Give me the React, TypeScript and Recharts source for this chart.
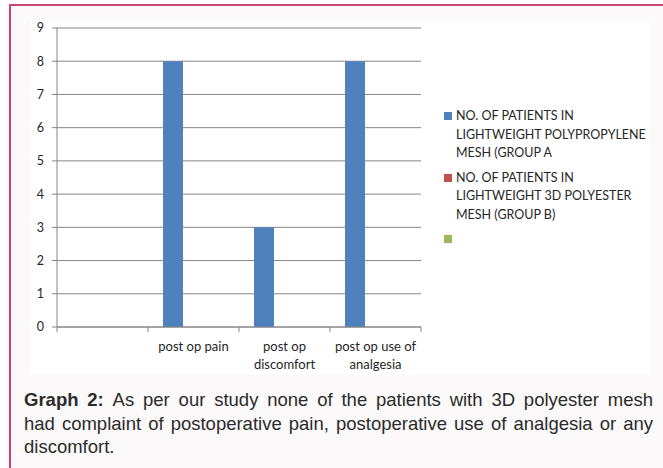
import React from "react";
import { BarChart, Bar, XAxis, YAxis, CartesianGrid } from "recharts";

// categories on the x axis (first slot is left blank in the source sheet)
const CATEGORIES = ["", "post op pain", "post op discomfort", "post op use of analgesia"];

// patients per group
const GROUP_A = [null, 8, 3, 8];
const GROUP_B = [null, 0, 0, 0];
const GROUP_C = [null, 0, 0, 0];

// legend labels, wrapped the way the source legend wraps them
const SERIES_NAMES = [
  "NO. OF PATIENTS IN\nLIGHTWEIGHT POLYPROPYLENE\nMESH (GROUP A",
  "NO. OF PATIENTS IN\nLIGHTWEIGHT 3D POLYESTER\nMESH (GROUP B)",
  "",
];
const SERIES_COLORS = ["#4f81bd", "#c0504d", "#9bbb59"];

const Y_TICKS = [0, 1, 2, 3, 4, 5, 6, 7, 8, 9];

const CAPTION_LABEL = "Graph 2:";
const CAPTION_LINES = [
  "As per our study none of the patients with 3D polyester mesh",
  "had complaint of postoperative pain, postoperative use of analgesia or any",
  "discomfort.",
];

const data = CATEGORIES.map((c, i) => ({
  category: c,
  a: GROUP_A[i],
  b: GROUP_B[i],
  c: GROUP_C[i],
}));

const CHART_W = 620;
const CHART_H = 355;
const MARGIN = { top: 8, right: 229, bottom: 0, left: 0 };
const Y_W = 27;
const PLOT_W = CHART_W - MARGIN.left - MARGIN.right - Y_W;
const HALF_BAND = PLOT_W / CATEGORIES.length / 2;
const FONT = "Lato, 'Open Sans', sans-serif";
const AXIS_GREY = "#868686";

// greedy word wrap, max chars per line (mimics the narrow category slots)
function wrapLabel(label: string, maxChars: number) {
  const lines: string[] = [];
  let cur = "";
  label.split(" ").forEach((w) => {
    if (!cur) cur = w;
    else if ((cur + " " + w).length <= maxChars) cur += " " + w;
    else {
      lines.push(cur);
      cur = w;
    }
  });
  if (cur) lines.push(cur);
  return lines;
}

function CategoryTick(props: any) {
  const { x, y, payload, index, visibleTicksCount } = props;
  const isLast = index === visibleTicksCount - 1;
  const lines = wrapLabel(String(payload.value || ""), 14);
  return (
    <g>
      <line x1={x - HALF_BAND} x2={x - HALF_BAND} y1={y} y2={y + 5} stroke={AXIS_GREY} />
      {isLast && (
        <line x1={x + HALF_BAND} x2={x + HALF_BAND} y1={y} y2={y + 5} stroke={AXIS_GREY} />
      )}
      <text
        x={x}
        y={y + 24}
        textAnchor="middle"
        fill="#262626"
        style={{ fontFamily: FONT, fontSize: 13 }}
      >
        {lines.map((l, i) => (
          <tspan key={i} x={x} dy={i === 0 ? 0 : 18}>
            {l}
          </tspan>
        ))}
      </text>
    </g>
  );
}

function LegendBox() {
  return (
    <div
      style={{
        position: "absolute",
        left: 444,
        top: 107,
        fontFamily: FONT,
        fontSize: 12.5,
        color: "#262626",
      }}
    >
      {SERIES_NAMES.map((name, i) => (
        <div key={i} style={{ display: "flex", alignItems: "flex-start", marginBottom: 6 }}>
          <span
            style={{
              width: 8,
              height: 8,
              marginTop: 5,
              marginRight: 4,
              flex: "0 0 8px",
              background: SERIES_COLORS[i],
            }}
          />
          <span style={{ lineHeight: "18.5px", minHeight: 18.5, whiteSpace: "pre-line" }}>
            {name}
          </span>
        </div>
      ))}
    </div>
  );
}

export default function App() {
  return (
    <div
      style={{
        position: "absolute",
        left: 0,
        top: 0,
        width: 663,
        height: 468,
        overflow: "hidden",
        background: "#ffffff",
      }}
    >
      <div
        style={{
          position: "absolute",
          left: 9,
          top: 4,
          width: 700,
          height: 500,
          borderTop: "2px solid #c7466f",
          borderLeft: "2px solid #c7466f",
          background: "#fcf9fa",
        }}
      />
      <div
        style={{
          position: "absolute",
          left: 30,
          top: 20,
          width: CHART_W,
          height: CHART_H,
          background: "#ffffff",
        }}
      >
        <BarChart
          width={CHART_W}
          height={CHART_H}
          data={data}
          margin={MARGIN}
          barCategoryGap="16.5%"
          barGap={0}
        >
          <CartesianGrid vertical={false} stroke={AXIS_GREY} />
          <XAxis
            dataKey="category"
            height={48}
            interval={0}
            axisLine={{ stroke: AXIS_GREY }}
            tickLine={false}
            tickSize={0}
            tickMargin={0}
            tick={<CategoryTick />}
          />
          <YAxis
            width={Y_W}
            domain={[0, 9]}
            ticks={Y_TICKS}
            interval={0}
            axisLine={{ stroke: AXIS_GREY }}
            tickLine={{ stroke: AXIS_GREY }}
            tickSize={5}
            tickMargin={8}
            tick={{ fill: "#262626", fontSize: 12.5, fontFamily: FONT }}
          />
          <Bar dataKey="a" fill={SERIES_COLORS[0]} isAnimationActive={false} />
          <Bar dataKey="b" fill={SERIES_COLORS[1]} isAnimationActive={false} />
          <Bar dataKey="c" fill={SERIES_COLORS[2]} isAnimationActive={false} />
        </BarChart>
      </div>
      <LegendBox />
      <div
        style={{
          position: "absolute",
          left: 24,
          top: 388,
          width: 629,
          fontFamily: "'Liberation Sans', Arial, sans-serif",
          fontSize: 18.5,
          lineHeight: "23.5px",
          color: "#2b2b2b",
        }}
      >
        {CAPTION_LINES.map((line, i) => (
          <div
            key={i}
            style={{
              textAlign: i < CAPTION_LINES.length - 1 ? "justify" : "left",
              textAlignLast: i < CAPTION_LINES.length - 1 ? "justify" : "left",
            }}
          >
            {i === 0 && <b>{CAPTION_LABEL} </b>}
            {line}
          </div>
        ))}
      </div>
    </div>
  );
}
